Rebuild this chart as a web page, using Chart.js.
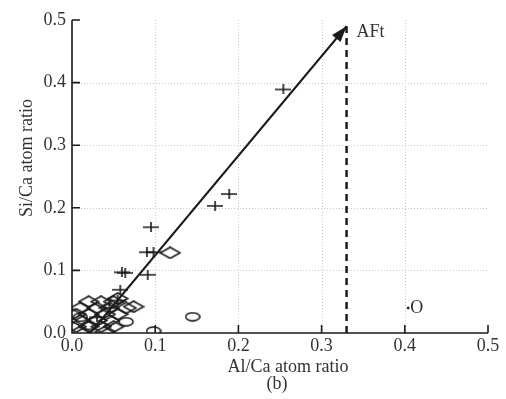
<!DOCTYPE html>
<html>
<head>
<meta charset="utf-8">
<script src="https://cdn.jsdelivr.net/npm/chart.js@4"></script>
<style>
  html, body { margin: 0; padding: 0; background: #fff; }
</style>
</head>
<body>
<canvas id="chart" width="506" height="399"></canvas>
<script>
const AXIS_TICKS = [0, 0.1, 0.2, 0.3, 0.4, 0.5];

// "+" points
const plusX = [0.254, 0.189, 0.172, 0.095, 0.090, 0.098, 0.060, 0.064, 0.091, 0.058, 0.055, 0.030, 0.045];
const plusY = [0.389, 0.222, 0.203, 0.169, 0.129, 0.129, 0.097, 0.096, 0.093, 0.069, 0.052, 0.025, 0.040];

// diamond points
const diamondX = [0.118, 0.074, 0.055, 0.020, 0.035, 0.050, 0.010, 0.030, 0.045, 0.065, 0.005, 0.020, 0.040, 0.055, 0.010, 0.030, 0.045, 0.005, 0.020, 0.035, 0.050, 0.010, 0.040];
const diamondY = [0.128, 0.042, 0.055, 0.050, 0.050, 0.050, 0.040, 0.040, 0.040, 0.040, 0.030, 0.030, 0.030, 0.030, 0.020, 0.020, 0.020, 0.010, 0.010, 0.010, 0.010, 0.002, 0.002];

// circle points
const circleX = [0.145, 0.098, 0.065, 0.020, 0.010];
const circleY = [0.026, 0.003, 0.018, 0.012, 0.025];

// single point labelled "O"
const oPointX = [0.404];
const oPointY = [0.040];

// arrow towards AFt and the dashed line below it
const arrowX = [0.022, 0.330];
const arrowY = [0.000, 0.490];
const dashX = [0.330, 0.330];
const dashY = [0.000, 0.490];

const INK = "#1a1a1a";
const TEXT = "#333";
const SERIF = "'Liberation Serif', 'DejaVu Serif', serif";

function toPoints(xs, ys) {
  return xs.map((x, i) => ({ x, y: ys[i] }));
}

function makeMarker(w, h, draw) {
  const c = document.createElement("canvas");
  c.width = w;
  c.height = h;
  const g = c.getContext("2d");
  g.strokeStyle = INK;
  g.lineWidth = 1.6;
  g.beginPath();
  draw(g, w, h);
  g.stroke();
  return c;
}

const plusMarker = makeMarker(16, 10, (g, w, h) => {
  g.moveTo(0, h / 2);
  g.lineTo(w, h / 2);
  g.moveTo(w / 2, 0);
  g.lineTo(w / 2, h);
});

const diamondMarker = makeMarker(22, 13, (g, w, h) => {
  g.moveTo(w / 2, 1);
  g.lineTo(w - 1, h / 2);
  g.lineTo(w / 2, h - 1);
  g.lineTo(1, h / 2);
  g.closePath();
});

const circleMarker = makeMarker(16, 10, (g, w, h) => {
  g.ellipse(w / 2, h / 2, w / 2 - 1, h / 2 - 1, 0, 0, Math.PI * 2);
});

const decorations = {
  id: "decorations",
  beforeDatasetsDraw(chart) {
    const { ctx, chartArea, scales } = chart;
    ctx.save();
    ctx.strokeStyle = "#c8c8c8";
    ctx.lineWidth = 1;
    ctx.setLineDash([1, 2]);
    AXIS_TICKS.slice(1, -1).forEach((t) => {
      const px = Math.round(scales.x.getPixelForValue(t)) + 0.5;
      const py = Math.round(scales.y.getPixelForValue(t)) + 0.5;
      ctx.beginPath();
      ctx.moveTo(px, chartArea.top);
      ctx.lineTo(px, chartArea.bottom);
      ctx.moveTo(chartArea.left, py);
      ctx.lineTo(chartArea.right, py);
      ctx.stroke();
    });
    ctx.restore();
  },
  afterDatasetsDraw(chart) {
    const { ctx, chartArea, scales } = chart;
    const { x, y } = scales;
    ctx.save();

    // axes with inward ticks
    ctx.strokeStyle = INK;
    ctx.lineWidth = 1.6;
    ctx.beginPath();
    ctx.moveTo(chartArea.left, chartArea.top);
    ctx.lineTo(chartArea.left, chartArea.bottom);
    ctx.lineTo(chartArea.right, chartArea.bottom);
    AXIS_TICKS.forEach((t) => {
      const px = x.getPixelForValue(t);
      const py = y.getPixelForValue(t);
      ctx.moveTo(px, chartArea.bottom);
      ctx.lineTo(px, chartArea.bottom - 8);
      ctx.moveTo(chartArea.left, py);
      ctx.lineTo(chartArea.left + 8, py);
    });
    ctx.stroke();

    // arrow head
    const x0 = x.getPixelForValue(arrowX[0]);
    const y0 = y.getPixelForValue(arrowY[0]);
    const x1 = x.getPixelForValue(arrowX[1]);
    const y1 = y.getPixelForValue(arrowY[1]);
    const a = Math.atan2(y1 - y0, x1 - x0);
    ctx.fillStyle = INK;
    ctx.beginPath();
    ctx.moveTo(x1, y1);
    ctx.lineTo(x1 - 16 * Math.cos(a) + 5.5 * Math.sin(a), y1 - 16 * Math.sin(a) - 5.5 * Math.cos(a));
    ctx.lineTo(x1 - 16 * Math.cos(a) - 5.5 * Math.sin(a), y1 - 16 * Math.sin(a) + 5.5 * Math.cos(a));
    ctx.closePath();
    ctx.fill();

    // labels
    ctx.fillStyle = TEXT;
    ctx.font = "18px " + SERIF;
    ctx.textBaseline = "middle";
    ctx.textAlign = "left";
    ctx.fillText("AFt", x1 + 10, y1 + 6);
    ctx.fillText("O", x.getPixelForValue(oPointX[0]) + 2, y.getPixelForValue(oPointY[0]));

    ctx.textAlign = "center";
    ctx.fillText("Al/Ca atom ratio", 288, 367);
    ctx.fillText("(b)", 277, 384);

    ctx.translate(27, 158);
    ctx.rotate(-Math.PI / 2);
    ctx.fillText("Si/Ca atom ratio", 0, 0);
    ctx.restore();
  },
};

function tickOptions() {
  return {
    color: TEXT,
    font: { family: SERIF, size: 18 },
    stepSize: 0.1,
    callback: (v) => v.toFixed(1),
  };
}

new Chart(document.getElementById("chart"), {
  type: "scatter",
  data: {
    datasets: [
      {
        type: "line",
        data: toPoints(dashX, dashY),
        borderColor: INK,
        borderWidth: 2.5,
        borderDash: [7, 5],
        pointRadius: 0,
      },
      {
        type: "line",
        data: toPoints(arrowX, arrowY),
        borderColor: INK,
        borderWidth: 2,
        pointRadius: 0,
      },
      { data: toPoints(diamondX, diamondY), pointStyle: diamondMarker },
      { data: toPoints(circleX, circleY), pointStyle: circleMarker },
      { data: toPoints(plusX, plusY), pointStyle: plusMarker },
      {
        data: toPoints(oPointX, oPointY),
        pointStyle: "circle",
        pointRadius: 1,
        backgroundColor: INK,
        borderColor: INK,
      },
    ],
  },
  options: {
    responsive: false,
    animation: false,
    layout: { padding: { top: 20, right: 18, left: 0, bottom: 0 } },
    plugins: { legend: { display: false }, tooltip: { enabled: false } },
    scales: {
      x: {
        type: "linear",
        min: 0,
        max: 0.5,
        ticks: { ...tickOptions(), padding: 2 },
        grid: { display: false, drawTicks: false },
        border: { display: false },
        afterFit: (scale) => { scale.height = 66; },
      },
      y: {
        type: "linear",
        min: 0,
        max: 0.5,
        ticks: { ...tickOptions(), padding: 6 },
        grid: { display: false, drawTicks: false },
        border: { display: false },
        afterFit: (scale) => { scale.width = 72; },
      },
    },
  },
  plugins: [decorations],
});
</script>
</body>
</html>
